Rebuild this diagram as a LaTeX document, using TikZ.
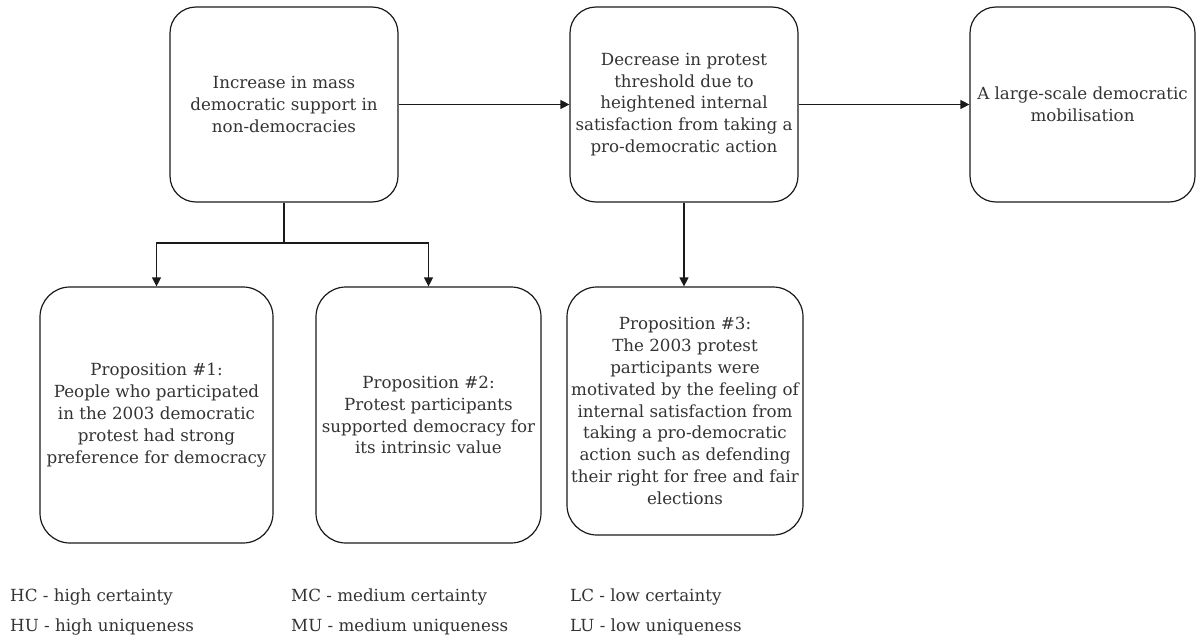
\documentclass[tikz,border=0pt]{standalone}
\usepackage{fontspec}
\setmainfont{DejaVu Serif}
\usetikzlibrary{arrows.meta}
\definecolor{ink}{HTML}{333333}
\definecolor{edge}{HTML}{1A1A1A}
\begin{document}
\begin{tikzpicture}[x=1pt,y=-1pt,
  box/.style={draw=edge, line width=1.2pt, rounded corners=26pt, align=center,
    text=ink, font=\fontsize{16.7}{21.9}\selectfont, inner sep=0pt},
  conn/.style={draw=edge, line width=1.2pt, -{Triangle[length=9pt,width=9pt]}},
  legend/.style={anchor=base west, text=ink, font=\fontsize{16.7}{20}\selectfont, inner sep=0pt}]
\useasboundingbox (0,0) rectangle (1197,638);

% top row of causal chain
\node[box, minimum width=228pt, minimum height=195pt] (inc) at (284,104.5)
  {Increase in mass\\democratic support in\\non-democracies};
\node[box, minimum width=228pt, minimum height=195pt] (dec) at (684,104.5)
  {Decrease in protest\\threshold due to\\heightened internal\\satisfaction from taking a\\pro-democratic action};
\node[box, minimum width=225pt, minimum height=195pt] (mob) at (1082.5,104.5)
  {A large-scale democratic\\mobilisation};

% propositions
\node[box, rounded corners=30pt, minimum width=233pt, minimum height=256pt] (p1) at (156.5,415)
  {Proposition \#1:\\People who participated\\in the 2003 democratic\\protest had strong\\preference for democracy};
\node[box, rounded corners=30pt, minimum width=225pt, minimum height=256pt] (p2) at (428.5,415)
  {Proposition \#2:\\Protest participants\\supported democracy for\\its intrinsic value};
\node[box, rounded corners=30pt, minimum width=236pt, minimum height=248pt] (p3) at (685,411)
  {Proposition \#3:\\The 2003 protest\\participants were\\motivated by the feeling of\\internal satisfaction from\\taking a pro-democratic\\action such as defending\\their right for free and fair\\elections};

% connectors
\draw[conn] (inc.east) -- (dec.west);
\draw[conn] (dec.east) -- (mob.west);
\coordinate (split) at (inc.south |- 0,243);
\draw[draw=edge, line width=1.2pt] (inc.south) -- (split);
\draw[conn] (split) -| (p1.north);
\draw[conn] (split) -| (p2.north);
\draw[conn] (dec.south) -- (dec.south |- p3.north);

% legend
\node[legend] (hc) at (10,601) {HC - high certainty};
\node[legend] (hu) at (10,631) {HU - high uniqueness};
\node[legend] (mc) at (291,601) {MC - medium certainty};
\node[legend] (mu) at (291,631) {MU - medium uniqueness};
\node[legend] (lc) at (570,601) {LC - low certainty};
\node[legend] (lu) at (570,631) {LU - low uniqueness};
\end{tikzpicture}
\end{document}
